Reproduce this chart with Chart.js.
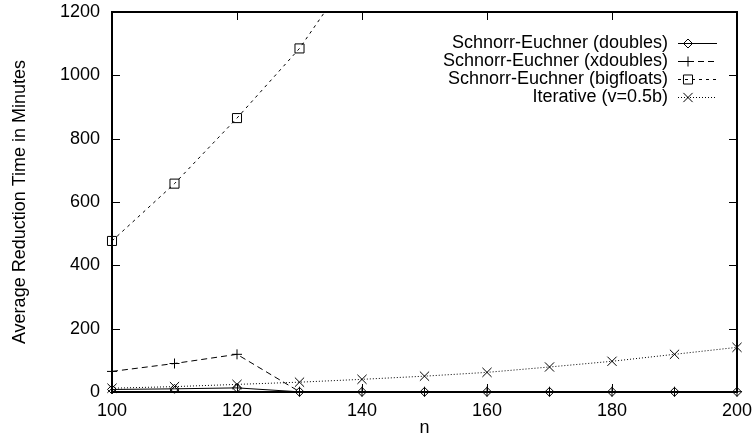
<!DOCTYPE html>
<html>
<head>
<meta charset="utf-8">
<script src="https://cdn.jsdelivr.net/npm/chart.js@4/dist/chart.umd.min.js"></script>
<style>
html, body { margin: 0; padding: 0; background: #fff; }
#wrap { width: 753px; height: 439px; }
</style>
</head>
<body>
<div id="wrap"><canvas id="reductionChart"></canvas></div>
<script>
// block size n
var nValues = [100, 110, 120, 130, 140, 150, 160, 170, 180, 190, 200];
// average reduction time in minutes
var doublesTimes   = [8, 10, 13, 0.5, 0.5, 0.5, 0.5, 0.5, 0.5, 0.5, 0.5];
var xdoublesTimes  = [65, 90, 119, 1, 1, 1, 1, 1, 1, 1, 1];
var bigfloatsTimes = [477, 658, 865, 1085, 1370];
var iterativeTimes = [12, 17, 24, 31, 40, 50, 62, 79, 97, 119, 141];

var xTicks = [100, 120, 140, 160, 180, 200];
var yTicks = [0, 200, 400, 600, 800, 1000, 1200];

var fontFamily = '"Liberation Sans", Arial, Helvetica, sans-serif';
var fontSize = 18;

function toPoints(values) {
    return values.map(function(v, i) { return { x: nValues[i], y: v }; });
}

var clipBox = { left: 10, top: 0, right: 10, bottom: 10 };

function series(label, values, dash, style, radius) {
    return {
        label: label,
        data: toPoints(values),
        borderColor: '#000',
        backgroundColor: 'rgba(0,0,0,0)',
        borderWidth: 1,
        borderDash: dash,
        pointStyle: style,
        pointRadius: radius,
        pointBorderWidth: 1,
        pointBorderColor: '#000',
        pointBackgroundColor: 'rgba(0,0,0,0)',
        tension: 0,
        fill: false,
        clip: clipBox
    };
}

// gnuplot style: frame, inward ticks, key with text on the left of the sample
var gnuplotFrame = {
    id: 'gnuplotFrame',
    afterDatasetsDraw: function(chart) {
        var ctx = chart.ctx, a = chart.chartArea;
        var xs = chart.scales.x, ys = chart.scales.y;
        ctx.save();
        ctx.strokeStyle = '#000';
        ctx.lineWidth = 1;
        ctx.setLineDash([]);
        ctx.beginPath();
        xTicks.forEach(function(v) {
            var px = Math.round(xs.getPixelForValue(v)) + 0.5;
            ctx.moveTo(px, a.bottom); ctx.lineTo(px, a.bottom - 8);
            ctx.moveTo(px, a.top); ctx.lineTo(px, a.top + 8);
        });
        yTicks.forEach(function(v) {
            var py = Math.round(ys.getPixelForValue(v)) + 0.5;
            ctx.moveTo(a.left, py); ctx.lineTo(a.left + 8, py);
            ctx.moveTo(a.right, py); ctx.lineTo(a.right - 8, py);
        });
        ctx.stroke();
        ctx.lineWidth = 2;
        ctx.strokeRect(a.left, a.top, a.right - a.left, a.bottom - a.top);

        // key
        ctx.font = fontSize + 'px ' + fontFamily;
        ctx.fillStyle = '#000';
        ctx.textAlign = 'right';
        ctx.textBaseline = 'middle';
        chart.data.datasets.forEach(function(ds, i) {
            var y = 43 + i * 18;
            ctx.fillText(ds.label, 668, y);
            ctx.lineWidth = 1;
            ctx.setLineDash(ds.borderDash);
            ctx.beginPath();
            ctx.moveTo(678, y + 0.5);
            ctx.lineTo(717, y + 0.5);
            ctx.stroke();
            ctx.setLineDash([]);
            ctx.fillStyle = 'rgba(0,0,0,0)';
            Chart.helpers.drawPoint(ctx, {
                pointStyle: ds.pointStyle,
                radius: ds.pointRadius,
                rotation: 0,
                borderWidth: 1
            }, 688, y + 0.5);
            ctx.fillStyle = '#000';
        });
        ctx.restore();
    }
};

function plainLabel(value) { return String(value); }

var chart = new Chart(document.getElementById('reductionChart').getContext('2d'), {
    type: 'line',
    data: {
        datasets: [
            series('Schnorr-Euchner (doubles)', doublesTimes, [], 'rectRot', 4.5),
            series('Schnorr-Euchner (xdoubles)', xdoublesTimes, [6, 4], 'cross', 5),
            series('Schnorr-Euchner (bigfloats)', bigfloatsTimes, [3, 4], 'rect', 6.4),
            series('Iterative (v=0.5b)', iterativeTimes, [1, 2], 'crossRot', 6.5)
        ]
    },
    options: {
        responsive: true,
        maintainAspectRatio: false,
        animation: false,
        devicePixelRatio: 1,
        layout: { padding: { top: 12, right: 16, left: 0, bottom: 0 } },
        plugins: {
            legend: { display: false },
            tooltip: { enabled: false }
        },
        scales: {
            x: {
                type: 'linear',
                min: 100,
                max: 200,
                afterFit: function(scale) {
                    scale.height = 47;
                    scale.paddingLeft = 0;
                    scale.paddingRight = 0;
                },
                afterBuildTicks: function(scale) {
                    scale.ticks = xTicks.map(function(v) { return { value: v }; });
                },
                grid: { display: false, drawTicks: false },
                border: { display: false },
                ticks: {
                    padding: 8,
                    color: '#000',
                    maxRotation: 0,
                    callback: plainLabel,
                    font: { family: fontFamily, size: fontSize }
                },
                title: {
                    display: true,
                    text: 'n',
                    color: '#000',
                    padding: { top: 0, bottom: 0 },
                    font: { family: fontFamily, size: fontSize }
                }
            },
            y: {
                type: 'linear',
                min: 0,
                max: 1200,
                afterFit: function(scale) {
                    scale.width = 112;
                    scale.paddingTop = 0;
                    scale.paddingBottom = 0;
                },
                afterBuildTicks: function(scale) {
                    scale.ticks = yTicks.map(function(v) { return { value: v }; });
                },
                grid: { display: false, drawTicks: false },
                border: { display: false },
                ticks: {
                    padding: 12,
                    color: '#000',
                    callback: plainLabel,
                    font: { family: fontFamily, size: fontSize }
                },
                title: {
                    display: true,
                    text: 'Average Reduction Time in Minutes',
                    color: '#000',
                    padding: { top: 9, bottom: 0 },
                    font: { family: fontFamily, size: fontSize }
                }
            }
        }
    },
    plugins: [gnuplotFrame]
});
</script>
</body>
</html>
